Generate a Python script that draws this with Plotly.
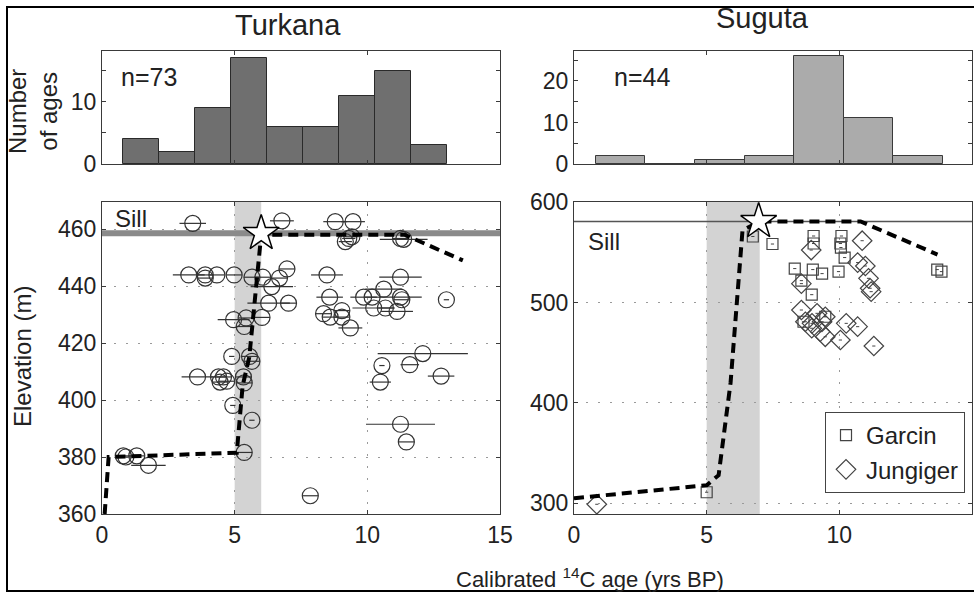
import plotly.graph_objects as go

W, H = 974, 593

# ---------------- data ----------------
turkana_bin_centers = [1.46, 2.82, 4.17, 5.53, 6.89, 8.25, 9.61, 10.97, 12.32]
turkana_bin_counts = [4, 2, 9, 17, 6, 6, 11, 15, 3]
turkana_bin_width = 1.358

suguta_bin_centers = [1.755, 3.625, 5.495, 7.365, 9.235, 11.105, 12.975]
suguta_bin_counts = [2, 0, 1, 2, 26, 11, 2]
suguta_bin_width = 1.87

turkana_age = [3.42, 6.78, 8.79, 9.46, 9.17, 9.30, 9.42, 11.25, 11.37, 8.48, 11.25, 10.62,
               8.58, 9.86, 10.18, 11.25, 11.30, 12.98, 10.24, 10.68, 11.12, 8.35, 8.60, 9.04,
               9.04, 9.36, 12.09, 10.55, 11.60, 10.49, 12.78, 11.25, 11.47, 7.85, 3.27, 3.89,
               3.89, 4.33, 4.98, 5.65, 6.06, 6.40, 6.69, 6.97, 6.28, 7.03, 4.96, 5.43, 6.03,
               5.36, 4.89, 5.56, 5.65, 3.60, 4.39, 4.58, 4.70, 4.45, 5.33, 5.36, 4.93, 5.65,
               5.36, 0.80, 0.90, 1.31, 1.75]
turkana_elev = [462.0, 462.9, 462.6, 462.6, 455.6, 456.7, 457.3, 456.7, 456.4, 443.9, 443.1, 438.9,
                436.1, 436.1, 436.1, 436.1, 435.2, 435.2, 432.3, 432.3, 431.1, 430.3, 429.1, 431.4,
                429.1, 425.3, 416.3, 412.1, 412.4, 406.3, 408.4, 391.5, 385.3, 366.4, 443.9, 443.9,
                442.8, 443.9, 443.9, 443.1, 443.1, 439.8, 442.8, 446.0, 434.0, 434.0, 428.2, 428.8, 429.0,
                425.8, 415.3, 415.3, 413.6, 408.1, 408.1, 408.1, 406.6, 406.3, 408.1, 406.0, 398.1, 392.9,
                381.6, 380.4, 380.0, 380.4, 377.1]
turkana_err = [0.5, 0.45, 0.45, 0.45, 0.25, 0.25, 0.25, 0.3, 0.9, 0.6, 0.8, 0.7,
               0.5, 0.5, 0.3, 0.8, 0.3, 0.1, 0.8, 0.3, 0.6, 0.3, 0.3, 0.3,
               0.3, 0.45, 1.7, 0.1, 0.35, 0.4, 0.5, 1.3, 0.3, 0.3, 0.6, 0.3,
               0.3, 0.3, 0.3, 0.3, 0.3, 0.8, 0.3, 0.3, 0.8, 0.3, 0.6, 0.3, 0.3,
               0.3, 0.1, 0.3, 0.3, 0.6, 0.3, 0.3, 0.3, 0.3, 0.3, 0.3, 0.1, 0.1,
               0.3, 0.3, 0.3, 0.3, 0.65]

garcin_age = [5.00, 6.74, 7.48, 9.03, 9.03, 10.08, 10.04, 10.06, 10.20, 8.32, 9.00, 9.35,
              9.97, 8.96, 13.69, 13.85, 8.65, 8.57, 9.47]
garcin_elev = [311, 566, 558.5, 566.5, 559, 566.5, 559, 555, 545, 534, 533, 529,
               531, 508, 533, 531, 481, 522, 486]

jungiger_age = [0.86, 8.94, 10.86, 10.69, 10.98, 11.10, 11.16, 11.20, 8.57, 8.57, 8.72, 8.97,
                9.16, 9.47, 9.35, 8.96, 9.28, 9.47, 10.26, 10.69, 10.04, 11.30]
jungiger_elev = [299, 552.5, 561.8, 540, 536.6, 524.3, 514.4, 511, 519, 492.7, 481, 479.4,
                 489.4, 486, 481, 474.5, 471.1, 466, 479.4, 476.1, 462.8, 456.8]

turkana_model_age = [0.1, 0.25, 5.08, 5.3, 5.55, 5.8, 6.0, 11.4, 13.6]
turkana_model_elev = [360, 380, 381.5, 405, 415, 440, 458, 458, 449]
suguta_model_age = [0.0, 5.0, 5.45, 5.9, 6.35, 7.0, 10.8, 13.7]
suguta_model_elev = [305, 318, 328, 420, 572, 581, 581, 548]

turkana_star = (6.0, 458.5)
suguta_star = (6.96, 581)
turkana_sill = 458.5
suguta_sill = 581
turkana_shade = (5, 6)
suguta_shade = (5, 7)
age_range = (0, 15)

# ---------------- helpers ----------------
def px_x(p):
    return p / W

def px_y(p):
    return 1 - p / H

FONT = "Liberation Sans, Arial, sans-serif"
TXT = "#222222"
AX = "#3a3a3a"
GRID = "#9a9a9a"
GRIDDASH = "2px,10px"

fig = go.Figure()

# histograms
fig.add_trace(go.Bar(x=turkana_bin_centers, y=turkana_bin_counts, width=turkana_bin_width,
                     marker=dict(color="#6f6f6f", line=dict(color="#2a2a2a", width=1)),
                     xaxis="x", yaxis="y", showlegend=False, hoverinfo="skip"))
fig.add_trace(go.Bar(x=suguta_bin_centers, y=suguta_bin_counts, width=suguta_bin_width,
                     marker=dict(color="#ababab", line=dict(color="#3a3a3a", width=1)),
                     xaxis="x3", yaxis="y3", showlegend=False, hoverinfo="skip"))

# Turkana sill
fig.add_trace(go.Scatter(x=list(age_range), y=[turkana_sill, turkana_sill], mode="lines",
                         line=dict(color="#8a8a8a", width=6), xaxis="x2", yaxis="y2",
                         showlegend=False, hoverinfo="skip"))
# Turkana points
fig.add_trace(go.Scatter(x=turkana_age, y=turkana_elev, mode="markers",
                         marker=dict(symbol="circle-open", size=16, color="#333333",
                                     line=dict(width=1.2, color="#333333")),
                         error_x=dict(type="data", array=turkana_err, color="#333333",
                                      thickness=1.2, width=0),
                         xaxis="x2", yaxis="y2", showlegend=False))
fig.add_trace(go.Scatter(x=turkana_model_age, y=turkana_model_elev, mode="lines",
                         line=dict(color="black", width=4, dash="10px,6px"),
                         xaxis="x2", yaxis="y2", showlegend=False))
fig.add_trace(go.Scatter(x=[turkana_star[0]], y=[turkana_star[1]], mode="markers",
                         marker=dict(symbol="star", size=27, color="white",
                                     line=dict(color="black", width=1.5)),
                         xaxis="x2", yaxis="y2", showlegend=False))

# Suguta sill
fig.add_trace(go.Scatter(x=list(age_range), y=[suguta_sill, suguta_sill], mode="lines",
                         line=dict(color="#555555", width=1.5), xaxis="x4", yaxis="y4",
                         showlegend=False, hoverinfo="skip"))
fig.add_trace(go.Scatter(x=garcin_age, y=garcin_elev, mode="markers", name="Garcin",
                         marker=dict(symbol="square-open", size=11, color="#444444",
                                     line=dict(width=1.2, color="#444444")),
                         error_x=dict(type="constant", value=0.06, color="#444444",
                                      thickness=1, width=0),
                         xaxis="x4", yaxis="y4"))
fig.add_trace(go.Scatter(x=jungiger_age, y=jungiger_elev, mode="markers", name="Jungiger",
                         marker=dict(symbol="diamond-open", size=15, color="#444444",
                                     line=dict(width=1.2, color="#444444")),
                         error_x=dict(type="constant", value=0.06, color="#444444",
                                      thickness=1, width=0),
                         xaxis="x4", yaxis="y4"))
fig.add_trace(go.Scatter(x=suguta_model_age, y=suguta_model_elev, mode="lines",
                         line=dict(color="black", width=4, dash="10px,6px"),
                         xaxis="x4", yaxis="y4", showlegend=False))
fig.add_trace(go.Scatter(x=[suguta_star[0]], y=[suguta_star[1]], mode="markers",
                         marker=dict(symbol="star", size=27, color="white",
                                     line=dict(color="black", width=1.5)),
                         xaxis="x4", yaxis="y4", showlegend=False))

# ---------------- axes ----------------
left_dom = [px_x(102), px_x(500)]
right_dom = [px_x(574), px_x(972)]
top_dom = [px_y(164), px_y(51)]
bot_dom = [px_y(514), px_y(202)]

tickfont = dict(family=FONT, size=23, color=TXT)

def xax(dom, anchor, labels):
    return dict(domain=dom, anchor=anchor, range=list(age_range), tickvals=[0, 5, 10, 15],
                showticklabels=labels, ticks="inside", ticklen=4, tickcolor=AX,
                showline=True, linecolor=AX, linewidth=1, mirror="ticks",
                showgrid=labels, gridcolor=GRID, griddash=GRIDDASH, gridwidth=1,
                zeroline=False, tickfont=tickfont, automargin=False)

def yax(dom, anchor, rng, tv, grid, minor=None):
    d = dict(domain=dom, anchor=anchor, range=rng, tickvals=tv, ticks="inside", ticklen=4,
             tickcolor=AX, showline=True, linecolor=AX, linewidth=1, mirror="ticks",
             showgrid=grid, gridcolor=GRID, griddash=GRIDDASH, gridwidth=1,
             zeroline=False, tickfont=tickfont, automargin=False)
    if minor:
        d["minor"] = dict(tickvals=minor, ticks="inside", ticklen=4, tickcolor=AX)
    return d

fig.update_layout(
    xaxis=xax(left_dom, "y", False),
    yaxis=yax(top_dom, "x", [0, 18.2], [0, 10], False, minor=[5, 15]),
    xaxis2=xax(left_dom, "y2", True),
    yaxis2=yax(bot_dom, "x2", [360, 469.5], [360, 380, 400, 420, 440, 460], True),
    xaxis3=xax(right_dom, "y3", False),
    yaxis3=yax(top_dom, "x3", [0, 27.2], [0, 10, 20], False, minor=[5, 15, 25]),
    xaxis4=xax(right_dom, "y4", True),
    yaxis4=yax(bot_dom, "x4", [289.3, 600.4], [300, 400, 500, 600], True),
)

# shading
fig.add_shape(type="rect", xref="x2", yref="y2 domain", x0=turkana_shade[0], x1=turkana_shade[1],
              y0=0, y1=1, fillcolor="#d3d3d3", line=dict(width=0), layer="below")
fig.add_shape(type="rect", xref="x4", yref="y4 domain", x0=suguta_shade[0], x1=suguta_shade[1],
              y0=0, y1=1, fillcolor="#d3d3d3", line=dict(width=0), layer="below")

# outer frame
fig.add_shape(type="rect", xref="paper", yref="paper", x0=px_x(7), x1=px_x(990),
              y0=px_y(591), y1=px_y(7), line=dict(color="black", width=2), fillcolor="rgba(0,0,0,0)")

def ann(text, x, y, size, angle=0, xanchor="center"):
    fig.add_annotation(text=text, x=px_x(x), y=px_y(y), xref="paper", yref="paper",
                       showarrow=False, textangle=angle, xanchor=xanchor, yanchor="middle",
                       font=dict(family=FONT, size=size, color=TXT))

ann("Turkana", 288, 25, 29)
ann("Suguta", 762, 18, 29)
ann("Number<br>of ages", 33, 112, 24, angle=-90)
ann("Elevation (m)", 22, 357, 24, angle=-90)
ann("Calibrated <sup>14</sup>C age (yrs BP)", 590, 578, 22)
ann("n=73", 119, 77, 25, xanchor="left")
ann("n=44", 612, 77, 25, xanchor="left")
ann("Sill", 113, 218, 24, xanchor="left")
ann("Sill", 586, 242, 24, xanchor="left")

fig.update_layout(
    width=W, height=H, autosize=False,
    margin=dict(l=0, r=0, t=0, b=0, pad=0, autoexpand=False),
    paper_bgcolor="white", plot_bgcolor="white",
    font=dict(family=FONT, color=TXT),
    bargap=0,
    legend=dict(x=px_x(825), y=px_y(412), xanchor="left", yanchor="top",
                bordercolor="#444444", borderwidth=1, bgcolor="white",
                font=dict(family=FONT, size=24, color=TXT), tracegroupgap=0,
                itemwidth=30),
)

fig.write_html("out.html")
